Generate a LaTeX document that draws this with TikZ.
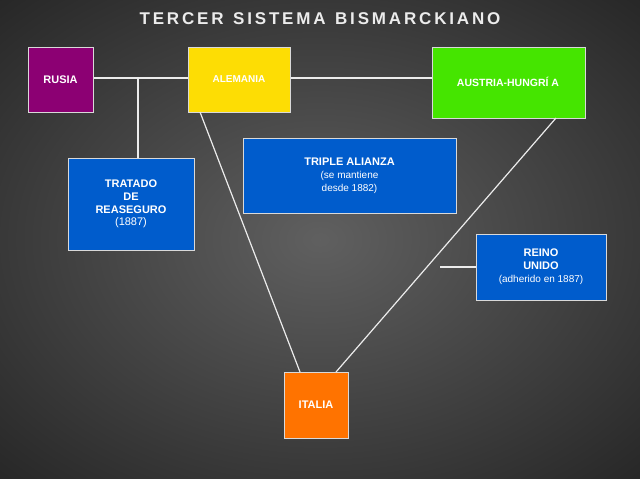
\documentclass[tikz,border=0pt]{standalone}
\usepackage{fontspec}
\setmainfont{Liberation Sans}
\begin{document}
\begin{tikzpicture}[x=1pt,y=-1pt,
  box/.style={draw=white!70!gray,line width=0.6pt,inner sep=0pt,text=white,font=\bfseries\fontsize{11}{13}\selectfont,align=center},
  ln/.style={draw=white!85!gray,line width=1.2pt}]
\useasboundingbox (0,0) rectangle (640,479);
\shade[inner color=gray!75!black,outer color=black!85] (-150,-100) rectangle (790,579);
\node[text=white!85!gray,font=\bfseries\fontsize{17}{19}\selectfont] (title) at (320,19) {T\,E\,R\,C\,E\,R\ \ S\,I\,S\,T\,E\,M\,A\ \ B\,I\,S\,M\,A\,R\,C\,K\,I\,A\,N\,O};
\coordinate (hl) at (93,78);
\coordinate (hr) at (432,78);
\coordinate (tj) at (138,78);
\draw[ln] (hl) -- (hr);
\node[box,fill=violet!80!purple,minimum width=65,minimum height=65] (rusia) at (60.5,79.5) {RUSIA};
\node[box,fill=yellow!80!orange,minimum width=102,minimum height=65] (alem) at (239,79.5) {};
\node[font=\bfseries\fontsize{10}{12}\selectfont,text=white] (alemt) at (239,79) {ALEMANIA};
\node[box,fill=green!60!lime!90!black,minimum width=153,minimum height=71] (aus) at (508.5,82.5) {};
\node[font=\bfseries\fontsize{10.5}{12}\selectfont,text=white] (aust) at (508,82) {AUSTRIA-HUNGRÍ A};
\node[box,fill=blue!55!cyan!80!black,minimum width=126,minimum height=92] (trat) at (131,204) {TRATADO\\DE\\REASEGURO\\[-1pt]{\normalfont(1887)}};
\draw[ln] (tj) -- (trat.north -| tj);
\node[box,fill=blue!55!cyan!80!black,minimum width=213,minimum height=75] (tri) at (349.5,175.5) {TRIPLE ALIANZA\\{\normalfont\fontsize{10}{12}\selectfont(se mantiene}\\{\normalfont\fontsize{10}{12}\selectfont desde 1882)}};
\node[box,fill=blue!55!cyan!80!black,minimum width=130,minimum height=66] (reino) at (541,267) {REINO\\UNIDO\\{\normalfont\fontsize{10}{12}\selectfont(adherido en 1887)}};
\node[box,fill=orange!90!red,minimum width=64,minimum height=66] (ital) at (316,405) {ITALIA};
\coordinate (a1) at (200,112);
\coordinate (i1) at (300,372);
\coordinate (a2) at (556,118);
\coordinate (i2) at (336,372);
\coordinate (rj) at (440,267);
\draw[ln] (a1) -- (i1);
\draw[ln] (a2) -- (i2);
\draw[ln] (reino.west) -- (rj);
\end{tikzpicture}
\end{document}
